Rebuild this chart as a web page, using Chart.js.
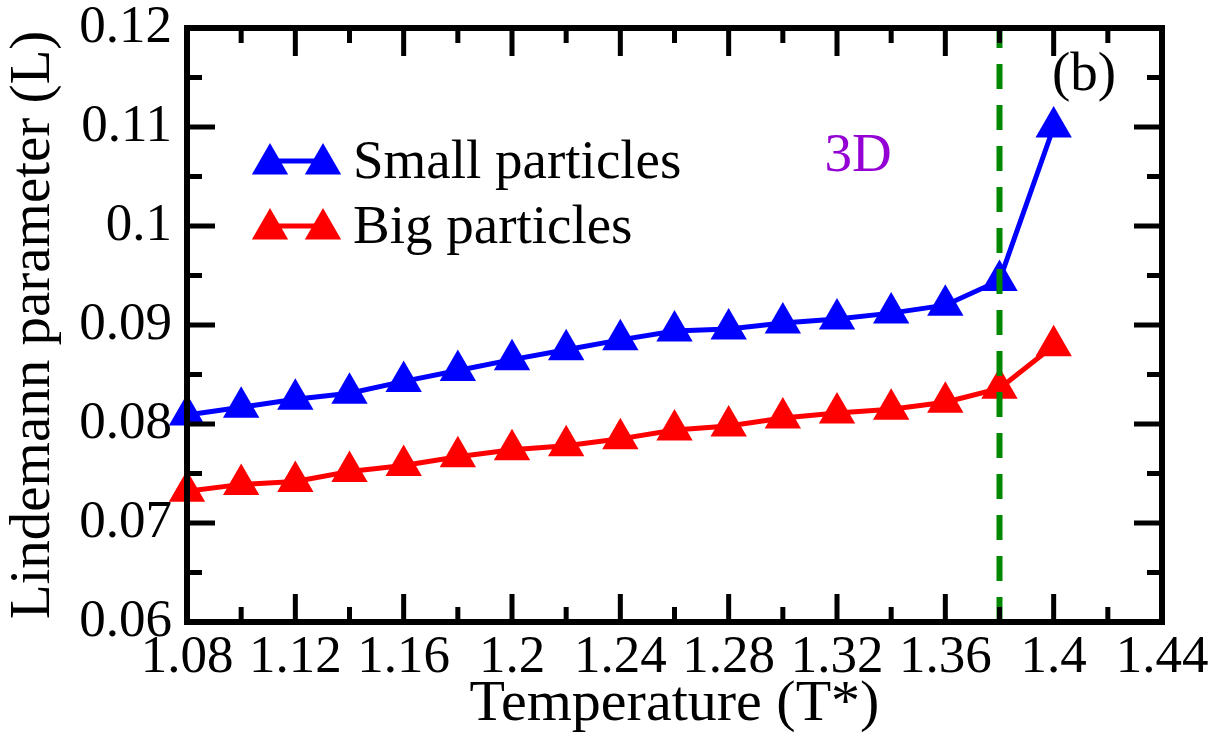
<!DOCTYPE html>
<html>
<head>
<meta charset="utf-8">
<script src="https://cdn.jsdelivr.net/npm/chart.js@4.4.1/dist/chart.umd.min.js"></script>
<style>
html,body{margin:0;padding:0;background:#fff;}
#wrap{width:1221px;height:743px;position:relative;}
</style>
</head>
<body>
<div id="wrap"><canvas id="c"></canvas></div>
<script>
// ---- data ----
const temperatures = [1.08,1.10,1.12,1.14,1.16,1.18,1.20,1.22,1.24,1.26,1.28,1.30,1.32,1.34,1.36,1.38,1.40];
const smallParticles = [0.0809,0.0817,0.0825,0.0831,0.0843,0.0854,0.0865,0.0875,0.0885,0.0894,0.0896,0.0902,0.0906,0.0912,0.0920,0.0945,0.1100];
const bigParticles   = [0.0732,0.0739,0.0742,0.0752,0.0758,0.0767,0.0774,0.0778,0.0785,0.0794,0.0798,0.0806,0.0811,0.0815,0.0822,0.0836,0.0879];
const seriesNames = ['Small particles','Big particles'];
const transitionT = 1.38;
const yRange = [0.06, 0.12];
const xRange = [1.08, 1.44];
const xMajorTicks = [1.08,1.12,1.16,1.20,1.24,1.28,1.32,1.36,1.40,1.44];
const xTickLabels = ['1.08','1.12','1.16','1.2','1.24','1.28','1.32','1.36','1.4','1.44'];
const xMinorTicks = [1.10,1.14,1.18,1.22,1.26,1.30,1.34,1.38,1.42];
const yMajorTicks = [0.06,0.07,0.08,0.09,0.10,0.11,0.12];
const yTickLabels = ['0.06','0.07','0.08','0.09','0.1','0.11','0.12'];
const yMinorTicks = [0.065,0.075,0.085,0.095,0.105,0.115];
const xTitle = 'Temperature (T*)';
const yTitle = 'Lindemann parameter (L)';
const panelLabel = '(b)';
const dimLabel = '3D';

const FONT = '"Liberation Serif", "Times New Roman", serif';

function drawTri(ctx, x, y, r, color) {
  ctx.beginPath();
  let rad = 0;
  ctx.moveTo(x + Math.sin(rad) * r, y - Math.cos(rad) * r);
  rad += 2 * Math.PI / 3;
  ctx.lineTo(x + Math.sin(rad) * r, y - Math.cos(rad) * r);
  rad += 2 * Math.PI / 3;
  ctx.lineTo(x + Math.sin(rad) * r, y - Math.cos(rad) * r);
  ctx.closePath();
  ctx.fillStyle = color;
  ctx.fill();
}

const framePlugin = {
  id: 'frame',
  afterDatasetsDraw(chart) {
    const {ctx, chartArea: a, scales: {x, y}} = chart;
    ctx.save();
    ctx.strokeStyle = '#000';
    ctx.lineCap = 'butt';
    ctx.lineWidth = 5;
    const vt = (v, len) => {
      const px = x.getPixelForValue(v);
      ctx.beginPath();
      ctx.moveTo(px, a.bottom); ctx.lineTo(px, a.bottom - len);
      ctx.moveTo(px, a.top); ctx.lineTo(px, a.top + len);
      ctx.stroke();
    };
    const ht = (v, len) => {
      const py = y.getPixelForValue(v);
      ctx.beginPath();
      ctx.moveTo(a.left, py); ctx.lineTo(a.left + len, py);
      ctx.moveTo(a.right, py); ctx.lineTo(a.right - len, py);
      ctx.stroke();
    };
    xMajorTicks.forEach(v => vt(v, 28));
    xMinorTicks.forEach(v => vt(v, 15));
    yMajorTicks.forEach(v => ht(v, 28));
    yMinorTicks.forEach(v => ht(v, 15));
    ctx.lineWidth = 6;
    ctx.strokeRect(a.left, a.top, a.right - a.left, a.bottom - a.top);
    ctx.restore();
  },
  afterDraw(chart) {
    const ctx = chart.ctx;
    ctx.save();
    // legend
    const rows = [164, 229];
    ctx.font = '55px ' + FONT;
    ctx.textBaseline = 'alphabetic';
    ctx.textAlign = 'left';
    [1, 2].forEach((di, i) => {
      const ds = chart.data.datasets[di];
      const yc = rows[i];
      ctx.strokeStyle = ds.borderColor;
      ctx.lineWidth = 5;
      ctx.beginPath();
      ctx.moveTo(270, yc - 3); ctx.lineTo(323, yc - 3);
      ctx.stroke();
      drawTri(ctx, 270, yc, 21, ds.borderColor);
      drawTri(ctx, 323, yc, 21, ds.borderColor);
      ctx.fillStyle = '#000';
      ctx.fillText(ds.label, 353, yc + 14);
    });
    // annotations
    ctx.textAlign = 'center';
    ctx.fillStyle = '#9400D3';
    ctx.fillText(dimLabel, 858, 171);
    ctx.fillStyle = '#000';
    ctx.fillText(panelLabel, 1084, 90);
    ctx.restore();
  }
};

function build() {
  Chart.defaults.font.family = FONT;
  Chart.defaults.color = '#000';
  new Chart(document.getElementById('c'), {
    type: 'line',
    data: {
      datasets: [
        {
          label: 'T*',
          data: [{x: transitionT, y: yRange[0]}, {x: transitionT, y: yRange[1]}],
          borderColor: '#008800',
          borderWidth: 6,
          borderDash: [25, 16],
          pointRadius: 0,
          fill: false,
          clip: false,
          order: -1
        },
        {
          label: seriesNames[0],
          data: temperatures.map((t, i) => ({x: t, y: smallParticles[i]})),
          borderColor: '#0000FF',
          backgroundColor: '#0000FF',
          borderWidth: 5,
          pointStyle: 'triangle',
          pointRadius: 21,
          pointBorderWidth: 0,
          pointBackgroundColor: '#0000FF',
          tension: 0,
          fill: false,
          clip: false
        },
        {
          label: seriesNames[1],
          data: temperatures.map((t, i) => ({x: t, y: bigParticles[i]})),
          borderColor: '#FF0000',
          backgroundColor: '#FF0000',
          borderWidth: 5,
          pointStyle: 'triangle',
          pointRadius: 21,
          pointBorderWidth: 0,
          pointBackgroundColor: '#FF0000',
          tension: 0,
          fill: false,
          clip: false
        }
      ]
    },
    options: {
      responsive: true,
      maintainAspectRatio: false,
      animation: false,
      events: [],
      layout: {padding: {left: 0, top: 28, right: 59, bottom: 0}},
      plugins: {legend: {display: false}, tooltip: {enabled: false}},
      scales: {
        x: {
          type: 'linear',
          min: xRange[0], max: xRange[1],
          grid: {display: false, drawTicks: false},
          border: {display: false},
          afterBuildTicks: s => { s.ticks = xMajorTicks.map(v => ({value: v})); },
          ticks: {
            autoSkip: false, maxRotation: 0, minRotation: 0,
            padding: 9.5,
            font: {size: 53, lineHeight: 1},
            callback: (v) => { const i = xMajorTicks.findIndex(t => Math.abs(t - v) < 1e-9); return i >= 0 ? xTickLabels[i] : ''; }
          },
          title: {display: true, text: xTitle, font: {size: 58, lineHeight: 1}, padding: {top: 0, bottom: 9.6}},
          afterFit: s => { s.height = 121; s.paddingLeft = 0; s.paddingRight = 0; }
        },
        y: {
          type: 'linear',
          min: yRange[0], max: yRange[1],
          grid: {display: false, drawTicks: false},
          border: {display: false},
          afterBuildTicks: s => { s.ticks = yMajorTicks.map(v => ({value: v})); },
          ticks: {
            padding: 15,
            font: {size: 53, lineHeight: 1},
            callback: (v) => { const i = yMajorTicks.findIndex(t => Math.abs(t - v) < 1e-9); return i >= 0 ? yTickLabels[i] : ''; }
          },
          title: {display: true, text: yTitle, font: {size: 57, lineHeight: 1}, padding: {top: 5.5, bottom: 0}},
          afterFit: s => { s.width = 187; s.paddingTop = 0; s.paddingBottom = 0; }
        }
      }
    },
    plugins: [framePlugin]
  });
}

if (document.fonts && document.fonts.load) {
  Promise.all([document.fonts.load('55px "Liberation Serif"')]).then(build, build);
} else {
  build();
}
</script>
</body>
</html>
